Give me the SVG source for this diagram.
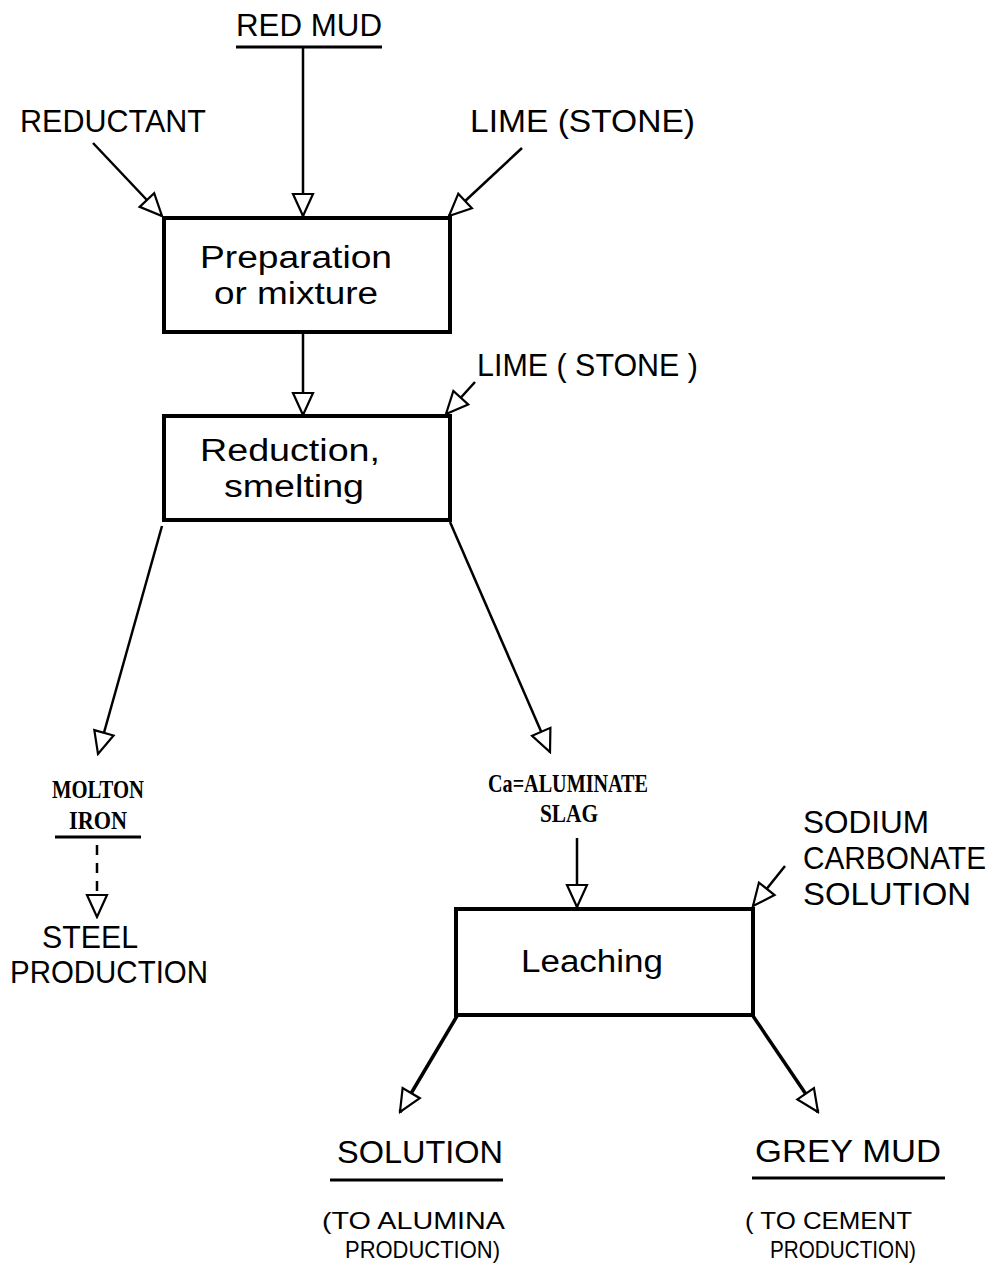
<svg xmlns="http://www.w3.org/2000/svg" width="997" height="1264" viewBox="0 0 997 1264">
<style>
.t{font-family:"Liberation Sans","DejaVu Sans",sans-serif;font-size:31px;fill:#000}
.s{font-family:"Liberation Serif","DejaVu Serif",serif;font-size:25px;font-weight:bold;fill:#000}
.m{font-family:"Liberation Sans","DejaVu Sans",sans-serif;font-size:24px;fill:#000}
.box{fill:#fff;stroke:#000;stroke-width:4}
.c{stroke:#000;stroke-width:2.5;fill:none}
.ct{stroke:#000;stroke-width:3.5;fill:none}
.u{stroke:#000;stroke-width:3}
</style>
<defs>
<marker id="a" markerUnits="userSpaceOnUse" markerWidth="26" markerHeight="26" viewBox="-1 -12 26 24" refX="23" refY="0" orient="auto">
<path d="M1,-10 L23,0 L1,10 Z" fill="#fff" stroke="#000" stroke-width="2.2"/>
</marker>
</defs>
<rect width="997" height="1264" fill="#fff"/>
<g id="connectors">
<line class="c" x1="303" y1="47" x2="303" y2="216" marker-end="url(#a)"/>
<line class="c" x1="93" y1="143" x2="162" y2="216" marker-end="url(#a)"/>
<line class="c" x1="522" y1="148" x2="449" y2="216" marker-end="url(#a)"/>
<line class="c" x1="303" y1="334" x2="303" y2="415" marker-end="url(#a)"/>
<line class="c" x1="475" y1="382" x2="446" y2="414" marker-end="url(#a)"/>
<line class="c" x1="162" y1="526" x2="98" y2="754" marker-end="url(#a)"/>
<line class="c" x1="450" y1="522" x2="550" y2="752" marker-end="url(#a)"/>
<line class="c" x1="97" y1="845" x2="97" y2="917" stroke-dasharray="10,8" marker-end="url(#a)"/>
<line class="c" x1="577" y1="838" x2="577" y2="907" marker-end="url(#a)"/>
<line class="c" x1="785" y1="866" x2="753" y2="906" marker-end="url(#a)"/>
<line class="ct" x1="457" y1="1016" x2="400" y2="1112" marker-end="url(#a)"/>
<line class="ct" x1="753" y1="1016" x2="818" y2="1112" marker-end="url(#a)"/>
</g>
<g id="red-mud">
<text class="t" x="309" y="36" text-anchor="middle" textLength="146" lengthAdjust="spacingAndGlyphs">RED MUD</text>
<line class="u" x1="236" y1="47" x2="382" y2="47"/>
</g>
<g id="reductant">
<text class="t" x="20" y="132" textLength="186" lengthAdjust="spacingAndGlyphs">REDUCTANT</text>
</g>
<g id="lime1">
<text class="t" x="470" y="132" textLength="225" lengthAdjust="spacingAndGlyphs">LIME (STONE)</text>
</g>
<g id="preparation">
<rect class="box" x="164" y="218" width="286" height="114"/>
<text class="t" x="296" y="268" text-anchor="middle" textLength="192" lengthAdjust="spacingAndGlyphs">Preparation</text>
<text class="t" x="296" y="304" text-anchor="middle" textLength="164" lengthAdjust="spacingAndGlyphs">or mixture</text>
</g>
<g id="lime2">
<text class="t" x="477" y="376" textLength="221" lengthAdjust="spacingAndGlyphs">LIME ( STONE )</text>
</g>
<g id="reduction">
<rect class="box" x="164" y="416" width="286" height="104"/>
<text class="t" x="290" y="461" text-anchor="middle" textLength="180" lengthAdjust="spacingAndGlyphs">Reduction,</text>
<text class="t" x="294" y="497" text-anchor="middle" textLength="140" lengthAdjust="spacingAndGlyphs">smelting</text>
</g>
<g id="molton-iron">
<text class="s" x="98" y="798" text-anchor="middle" textLength="92" lengthAdjust="spacingAndGlyphs">MOLTON</text>
<text class="s" x="98" y="829" text-anchor="middle" textLength="58" lengthAdjust="spacingAndGlyphs">IRON</text>
<line class="u" x1="55" y1="837" x2="141" y2="837"/>
</g>
<g id="steel">
<text class="t" x="90" y="948" text-anchor="middle" textLength="96" lengthAdjust="spacingAndGlyphs">STEEL</text>
<text class="t" x="109" y="983" text-anchor="middle" textLength="198" lengthAdjust="spacingAndGlyphs">PRODUCTION</text>
</g>
<g id="slag">
<text class="s" x="568" y="792" text-anchor="middle" textLength="160" lengthAdjust="spacingAndGlyphs">Ca=ALUMINATE</text>
<text class="s" x="569" y="822" text-anchor="middle" textLength="58" lengthAdjust="spacingAndGlyphs">SLAG</text>
</g>
<g id="sodium">
<text class="t" x="803" y="833" textLength="126" lengthAdjust="spacingAndGlyphs">SODIUM</text>
<text class="t" x="803" y="869" textLength="183" lengthAdjust="spacingAndGlyphs">CARBONATE</text>
<text class="t" x="803" y="905" textLength="168" lengthAdjust="spacingAndGlyphs">SOLUTION</text>
</g>
<g id="leaching">
<rect class="box" x="456" y="909" width="297" height="106"/>
<text class="t" x="592" y="972" text-anchor="middle" textLength="142" lengthAdjust="spacingAndGlyphs">Leaching</text>
</g>
<g id="solution">
<text class="t" x="420" y="1163" text-anchor="middle" textLength="166" lengthAdjust="spacingAndGlyphs">SOLUTION</text>
<line class="u" x1="330" y1="1180" x2="503" y2="1180"/>
<text class="m" x="322" y="1229" textLength="183" lengthAdjust="spacingAndGlyphs">(TO ALUMINA</text>
<text class="m" x="345" y="1258" textLength="155" lengthAdjust="spacingAndGlyphs">PRODUCTION)</text>
</g>
<g id="grey-mud">
<text class="t" x="848" y="1162" text-anchor="middle" textLength="186" lengthAdjust="spacingAndGlyphs">GREY  MUD</text>
<line class="u" x1="752" y1="1178" x2="945" y2="1178"/>
<text class="m" x="745" y="1229" textLength="167" lengthAdjust="spacingAndGlyphs">( TO CEMENT</text>
<text class="m" x="770" y="1258" textLength="146" lengthAdjust="spacingAndGlyphs">PRODUCTION)</text>
</g>
</svg>
